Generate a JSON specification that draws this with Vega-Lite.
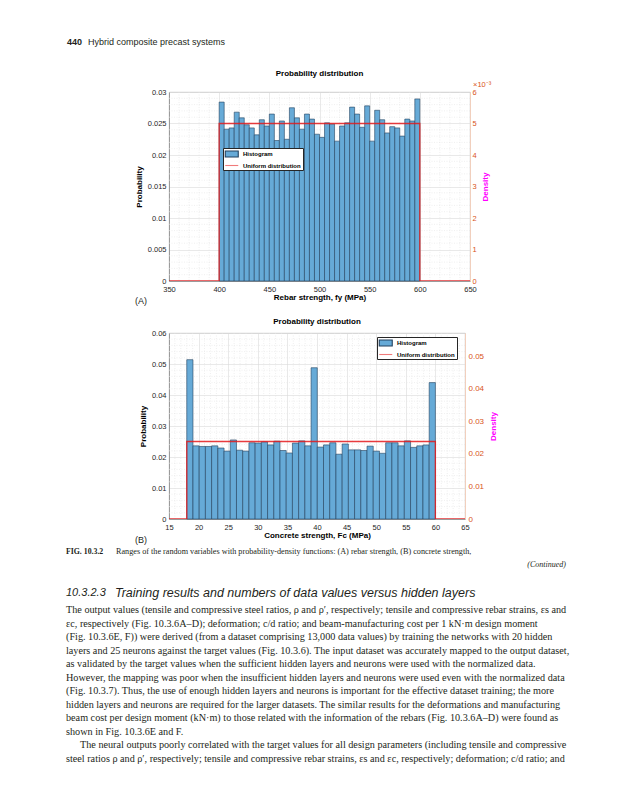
{
  "$schema": "https://vega.github.io/schema/vega-lite/v6.json",
  "padding": {"left": 66, "top": 30, "right": 0, "bottom": 0},
  "background": "white",
  "spacing": 52,
  "bounds": "flush",
  "resolve": {"scale": {"x": "independent", "y": "independent", "fill": "independent", "stroke": "independent", "shape": "independent"}, "legend": {"fill": "independent", "stroke": "independent", "shape": "independent"}},
  "config": {
    "font": "Liberation Sans",
    "view": {"stroke": "#bdbdbd", "strokeWidth": 0.8},
    "axis": {"labelFont": "Liberation Sans", "titleFont": "Liberation Sans", "labelFontSize": 7.5, "labelColor": "#262626", "titleColor": "#000000", "titleFontSize": 8, "titleFontWeight": "bold", "domainColor": "#8c8c8c", "domainWidth": 0.8, "ticks": false, "labelOverlap": false, "labelBound": false, "labelFlush": false, "gridColor": "#dadada", "gridWidth": 0.6},
    "legend": {"orient": "none", "title": null, "labelFont": "Liberation Sans", "labelFontSize": 6, "labelFontWeight": "bold", "labelColor": "#000000", "labelOffset": 9.5, "padding": 1.5, "rowPadding": 1.5, "fillColor": "#ffffff", "strokeColor": "#262626", "symbolSize": 56, "symbolOpacity": 1, "symbolStrokeWidth": 1.1},
    "title": {"font": "Liberation Sans", "fontSize": 8, "fontWeight": "bold", "color": "#000000", "offset": 3, "anchor": "middle"}
  },
  "vconcat": [
    {
      "width": 400, "height": 10, "view": {"stroke": null},
      "layer": [
        {"data": {"values": [{"t": "440"}]}, "mark": {"type": "text", "font": "Liberation Sans", "fontWeight": "bold", "fontSize": 9, "align": "left", "baseline": "middle", "color": "#231f20"}, "encoding": {"text": {"field": "t"}, "x": {"value": -102}, "y": {"value": 12}}},
        {"data": {"values": [{"t": "Hybrid composite precast systems"}]}, "mark": {"type": "text", "font": "Liberation Sans", "fontSize": 9, "align": "left", "baseline": "middle", "color": "#231f20"}, "encoding": {"text": {"field": "t"}, "x": {"value": -81}, "y": {"value": 12}}}
      ]
    },
    {
      "width": 301, "height": 189,
      "title": {"text": "Probability distribution"},
      "resolve": {"scale": {"y": "independent"}},
      "layer": [
        {
          "data": {"values": [{"lo": 360}, {"lo": 370}, {"lo": 380}, {"lo": 390}, {"lo": 410}, {"lo": 420}, {"lo": 430}, {"lo": 440}, {"lo": 460}, {"lo": 470}, {"lo": 480}, {"lo": 490}, {"lo": 510}, {"lo": 520}, {"lo": 530}, {"lo": 540}, {"lo": 560}, {"lo": 570}, {"lo": 580}, {"lo": 590}, {"lo": 610}, {"lo": 620}, {"lo": 630}, {"lo": 640}]},
          "mark": {"type": "rule", "color": "#e4e4e4", "strokeWidth": 0.6, "strokeDash": [1, 1.5]},
          "encoding": {"x": {"field": "lo", "type": "quantitative", "scale": {"domain": [350, 650], "nice": false, "zero": false},
            "axis": {"values": [350, 400, 450, 500, 550, 600, 650], "format": "d", "labelPadding": 4, "labelOverlap": false, "grid": true, "title": "Rebar strength, fy (MPa)", "titlePadding": 1}}}
        },
        {
          "data": {"values": [{"g": 0.001}, {"g": 0.002}, {"g": 0.003}, {"g": 0.004}, {"g": 0.006}, {"g": 0.007}, {"g": 0.008}, {"g": 0.009}, {"g": 0.011}, {"g": 0.012}, {"g": 0.013}, {"g": 0.014}, {"g": 0.016}, {"g": 0.017}, {"g": 0.018}, {"g": 0.019}, {"g": 0.021}, {"g": 0.022}, {"g": 0.023}, {"g": 0.024}, {"g": 0.026}, {"g": 0.027}, {"g": 0.028}, {"g": 0.029}]},
          "mark": {"type": "rule", "color": "#e4e4e4", "strokeWidth": 0.6, "strokeDash": [1, 1.5]},
          "encoding": {"y": {"field": "g", "type": "quantitative", "scale": {"domain": [0, 0.03], "nice": false}, "axis": null}}
        },
        {
          "data": {"values": [
            {"lo": 400, "hi": 405, "p": 0.0284}, {"lo": 405, "hi": 410, "p": 0.0241}, {"lo": 410, "hi": 415, "p": 0.0243}, {"lo": 415, "hi": 420, "p": 0.0268},
            {"lo": 420, "hi": 425, "p": 0.0259}, {"lo": 425, "hi": 430, "p": 0.0248}, {"lo": 430, "hi": 435, "p": 0.0243}, {"lo": 435, "hi": 440, "p": 0.0232},
            {"lo": 440, "hi": 445, "p": 0.0256}, {"lo": 445, "hi": 450, "p": 0.0246}, {"lo": 450, "hi": 455, "p": 0.0265}, {"lo": 455, "hi": 460, "p": 0.0223},
            {"lo": 460, "hi": 465, "p": 0.0254}, {"lo": 465, "hi": 470, "p": 0.0225}, {"lo": 470, "hi": 475, "p": 0.0275}, {"lo": 475, "hi": 480, "p": 0.0259},
            {"lo": 480, "hi": 485, "p": 0.0241}, {"lo": 485, "hi": 490, "p": 0.0265}, {"lo": 490, "hi": 495, "p": 0.0257}, {"lo": 495, "hi": 500, "p": 0.0233},
            {"lo": 500, "hi": 505, "p": 0.0228}, {"lo": 505, "hi": 510, "p": 0.0251}, {"lo": 510, "hi": 515, "p": 0.0249}, {"lo": 515, "hi": 520, "p": 0.0222},
            {"lo": 520, "hi": 525, "p": 0.0246}, {"lo": 525, "hi": 530, "p": 0.0251}, {"lo": 530, "hi": 535, "p": 0.0276}, {"lo": 535, "hi": 540, "p": 0.0265},
            {"lo": 540, "hi": 545, "p": 0.0244}, {"lo": 545, "hi": 550, "p": 0.0278}, {"lo": 550, "hi": 555, "p": 0.0222}, {"lo": 555, "hi": 560, "p": 0.0271},
            {"lo": 560, "hi": 565, "p": 0.0256}, {"lo": 565, "hi": 570, "p": 0.0235}, {"lo": 570, "hi": 575, "p": 0.0245}, {"lo": 575, "hi": 580, "p": 0.0243},
            {"lo": 580, "hi": 585, "p": 0.0230}, {"lo": 585, "hi": 590, "p": 0.0257}, {"lo": 590, "hi": 595, "p": 0.0254}, {"lo": 595, "hi": 600, "p": 0.0289}
          ]},
          "mark": {"type": "bar", "fill": "#66AAD7", "stroke": "#23415e", "strokeWidth": 0.6},
          "encoding": {
            "x": {"field": "lo", "type": "quantitative", "scale": {"domain": [350, 650], "nice": false, "zero": false},
              "axis": {"values": [350, 400, 450, 500, 550, 600, 650], "format": "d", "labelPadding": 4, "labelOverlap": false, "grid": true, "title": "Rebar strength, fy (MPa)", "titlePadding": 1}},
            "x2": {"field": "hi"},
            "y": {"field": "p", "type": "quantitative", "scale": {"domain": [0, 0.03], "nice": false},
              "axis": {"orient": "left", "values": [0, 0.005, 0.01, 0.015, 0.02, 0.025, 0.03], "format": "~g", "labelPadding": 3, "labelOverlap": false, "grid": true,
                "title": "Probability", "titlePadding": 4}},
            "y2": {"datum": 0}
          }
        },
        {
          "data": {"values": [{"i": 1, "x": 350, "d": 0}, {"i": 2, "x": 400, "d": 0}, {"i": 3, "x": 400, "d": 0.005}, {"i": 4, "x": 600, "d": 0.005}, {"i": 5, "x": 600, "d": 0}, {"i": 6, "x": 650, "d": 0}]},
          "mark": {"type": "line", "color": "#E41A1C", "strokeWidth": 1.3, "opacity": 0.85, "clip": true},
          "encoding": {
            "x": {"field": "x", "type": "quantitative", "scale": {"domain": [350, 650], "nice": false, "zero": false},
              "axis": {"values": [350, 400, 450, 500, 550, 600, 650], "format": "d", "labelPadding": 4, "labelOverlap": false, "grid": true, "title": "Rebar strength, fy (MPa)", "titlePadding": 1}},
            "y": {"field": "d", "type": "quantitative", "scale": {"domain": [0, 0.006], "nice": false},
              "axis": {"orient": "right", "values": [0, 0.001, 0.002, 0.003, 0.004, 0.005, 0.006], "labelExpr": "format(datum.value*1000, '.0f')",
                "grid": false, "labelColor": "#D95319", "labelPadding": 2, "domainColor": "#F8CDB6", "labelOverlap": false,
                "title": "Density", "titleColor": "#FF00FF", "titlePadding": 5, "titleAngle": 270, "titleBaseline": "top"}},
            "order": {"field": "i"}
          }
        },
        {
          "data": {"values": [{"s": "Histogram"}, {"s": "Uniform distribution"}]},
          "mark": {"type": "point", "opacity": 0, "filled": false},
          "encoding": {
            "x": {"value": 0}, "y": {"value": 0},
            "shape": {"field": "s", "type": "nominal", "scale": {"domain": ["Histogram", "Uniform distribution"], "range": ["M-1,-0.8L2.47,-0.8L2.47,0.8L-1,0.8Z", "M-1,0L2.47,0"]}, "legend": {"orient": "none", "legendX": 54, "legendY": 56, "title": null}},
            "fill": {"field": "s", "type": "nominal", "scale": {"domain": ["Histogram", "Uniform distribution"], "range": ["#66AAD7", "transparent"]}, "legend": {"orient": "none", "legendX": 54, "legendY": 56, "title": null}},
            "stroke": {"field": "s", "type": "nominal", "scale": {"domain": ["Histogram", "Uniform distribution"], "range": ["#23415e", "#F07B7B"]}, "legend": {"orient": "none", "legendX": 54, "legendY": 56, "title": null}}
          }
        },
        {
          "data": {"values": [{"t": "×10⁻³"}]},
          "mark": {"type": "text", "font": "Liberation Sans", "fontSize": 7.5, "align": "left", "baseline": "middle", "color": "#D95319"},
          "encoding": {"text": {"field": "t"}, "x": {"value": 304}, "y": {"value": -7}}
        },
        {
          "data": {"values": [{"t": "(A)"}]},
          "mark": {"type": "text", "font": "Liberation Sans", "fontSize": 9, "align": "left", "baseline": "middle", "color": "#231f20"},
          "encoding": {"text": {"field": "t"}, "x": {"value": -34}, "y": {"value": 209}}
        }
      ]
    },
    {
      "width": 296, "height": 186,
      "title": {"text": "Probability distribution"},
      "resolve": {"scale": {"y": "independent"}},
      "layer": [
        {
          "data": {"values": [{"lo": 16}, {"lo": 17}, {"lo": 18}, {"lo": 19}, {"lo": 21}, {"lo": 22}, {"lo": 23}, {"lo": 24}, {"lo": 26}, {"lo": 27}, {"lo": 28}, {"lo": 29}, {"lo": 31}, {"lo": 32}, {"lo": 33}, {"lo": 34}, {"lo": 36}, {"lo": 37}, {"lo": 38}, {"lo": 39}, {"lo": 41}, {"lo": 42}, {"lo": 43}, {"lo": 44}, {"lo": 46}, {"lo": 47}, {"lo": 48}, {"lo": 49}, {"lo": 51}, {"lo": 52}, {"lo": 53}, {"lo": 54}, {"lo": 56}, {"lo": 57}, {"lo": 58}, {"lo": 59}, {"lo": 61}, {"lo": 62}, {"lo": 63}, {"lo": 64}]},
          "mark": {"type": "rule", "color": "#e4e4e4", "strokeWidth": 0.6, "strokeDash": [1, 1.5]},
          "encoding": {"x": {"field": "lo", "type": "quantitative", "scale": {"domain": [15, 65], "nice": false, "zero": false},
            "axis": {"values": [15, 20, 25, 30, 35, 40, 45, 50, 55, 60, 65], "format": "d", "labelPadding": 4, "labelOverlap": false, "grid": true, "title": "Concrete strength, Fc (MPa)", "titlePadding": 1}}}
        },
        {
          "data": {"values": [{"g": 0.002}, {"g": 0.004}, {"g": 0.006}, {"g": 0.008}, {"g": 0.012}, {"g": 0.014}, {"g": 0.016}, {"g": 0.018}, {"g": 0.022}, {"g": 0.024}, {"g": 0.026}, {"g": 0.028}, {"g": 0.032}, {"g": 0.034}, {"g": 0.036}, {"g": 0.038}, {"g": 0.042}, {"g": 0.044}, {"g": 0.046}, {"g": 0.048}, {"g": 0.052}, {"g": 0.054}, {"g": 0.056}, {"g": 0.058}]},
          "mark": {"type": "rule", "color": "#e4e4e4", "strokeWidth": 0.6, "strokeDash": [1, 1.5]},
          "encoding": {"y": {"field": "g", "type": "quantitative", "scale": {"domain": [0, 0.06], "nice": false}, "axis": null}}
        },
        {
          "data": {"values": [
            {"lo": 18, "hi": 19.05, "p": 0.0514}, {"lo": 19.05, "hi": 20.1, "p": 0.0236}, {"lo": 20.1, "hi": 21.15, "p": 0.0234}, {"lo": 21.15, "hi": 22.2, "p": 0.0234},
            {"lo": 22.2, "hi": 23.25, "p": 0.0236}, {"lo": 23.25, "hi": 24.3, "p": 0.0229}, {"lo": 24.3, "hi": 25.35, "p": 0.0219}, {"lo": 25.35, "hi": 26.4, "p": 0.0255},
            {"lo": 26.4, "hi": 27.45, "p": 0.0222}, {"lo": 27.45, "hi": 28.5, "p": 0.0219}, {"lo": 28.5, "hi": 29.55, "p": 0.0246}, {"lo": 29.55, "hi": 30.6, "p": 0.0245},
            {"lo": 30.6, "hi": 31.65, "p": 0.0249}, {"lo": 31.65, "hi": 32.7, "p": 0.0239}, {"lo": 32.7, "hi": 33.75, "p": 0.0251}, {"lo": 33.75, "hi": 34.8, "p": 0.0221},
            {"lo": 34.8, "hi": 35.85, "p": 0.0213}, {"lo": 35.85, "hi": 36.9, "p": 0.0245}, {"lo": 36.9, "hi": 37.95, "p": 0.0252}, {"lo": 37.95, "hi": 39, "p": 0.0236},
            {"lo": 39, "hi": 40.05, "p": 0.0488}, {"lo": 40.05, "hi": 41.1, "p": 0.0232}, {"lo": 41.1, "hi": 42.15, "p": 0.0239}, {"lo": 42.15, "hi": 43.2, "p": 0.0246},
            {"lo": 43.2, "hi": 44.25, "p": 0.0209}, {"lo": 44.25, "hi": 45.3, "p": 0.0242}, {"lo": 45.3, "hi": 46.35, "p": 0.0223}, {"lo": 46.35, "hi": 47.4, "p": 0.0223},
            {"lo": 47.4, "hi": 48.45, "p": 0.0221}, {"lo": 48.45, "hi": 49.5, "p": 0.0235}, {"lo": 49.5, "hi": 50.55, "p": 0.0219}, {"lo": 50.55, "hi": 51.6, "p": 0.0212},
            {"lo": 51.6, "hi": 52.65, "p": 0.0246}, {"lo": 52.65, "hi": 53.7, "p": 0.0246}, {"lo": 53.7, "hi": 54.75, "p": 0.0236}, {"lo": 54.75, "hi": 55.8, "p": 0.0252},
            {"lo": 55.8, "hi": 56.85, "p": 0.0231}, {"lo": 56.85, "hi": 57.9, "p": 0.0236}, {"lo": 57.9, "hi": 58.95, "p": 0.0239}, {"lo": 58.95, "hi": 60, "p": 0.0440}
          ]},
          "mark": {"type": "bar", "fill": "#66AAD7", "stroke": "#23415e", "strokeWidth": 0.6},
          "encoding": {
            "x": {"field": "lo", "type": "quantitative", "scale": {"domain": [15, 65], "nice": false, "zero": false},
              "axis": {"values": [15, 20, 25, 30, 35, 40, 45, 50, 55, 60, 65], "format": "d", "labelPadding": 4, "labelOverlap": false, "grid": true, "title": "Concrete strength, Fc (MPa)", "titlePadding": 1}},
            "x2": {"field": "hi"},
            "y": {"field": "p", "type": "quantitative", "scale": {"domain": [0, 0.06], "nice": false},
              "axis": {"orient": "left", "values": [0, 0.01, 0.02, 0.03, 0.04, 0.05, 0.06], "format": "~g", "labelPadding": 3, "labelOverlap": false, "grid": true,
                "title": "Probability", "titlePadding": 4}},
            "y2": {"datum": 0}
          }
        },
        {
          "data": {"values": [{"i": 1, "x": 15, "d": 0}, {"i": 2, "x": 18, "d": 0}, {"i": 3, "x": 18, "d": 0.02381}, {"i": 4, "x": 60, "d": 0.02381}, {"i": 5, "x": 60, "d": 0}, {"i": 6, "x": 65, "d": 0}]},
          "mark": {"type": "line", "color": "#E41A1C", "strokeWidth": 1.3, "opacity": 0.85, "clip": true},
          "encoding": {
            "x": {"field": "x", "type": "quantitative", "scale": {"domain": [15, 65], "nice": false, "zero": false},
              "axis": {"values": [15, 20, 25, 30, 35, 40, 45, 50, 55, 60, 65], "format": "d", "labelPadding": 4, "labelOverlap": false, "grid": true, "title": "Concrete strength, Fc (MPa)", "titlePadding": 1}},
            "y": {"field": "d", "type": "quantitative", "scale": {"domain": [0, 0.0571429], "nice": false},
              "axis": {"orient": "right", "values": [0, 0.01, 0.02, 0.03, 0.04, 0.05], "format": "~g", "labelOverlap": false,
                "grid": false, "labelColor": "#D95319", "labelFontSize": 8, "labelPadding": 3, "domainColor": "#F8CDB6",
                "title": "Density", "titleColor": "#FF00FF", "titlePadding": 6, "titleAngle": 270, "titleBaseline": "top"}},
            "order": {"field": "i"}
          }
        },
        {
          "data": {"values": [{"s": "Histogram"}, {"s": "Uniform distribution"}]},
          "mark": {"type": "point", "opacity": 0, "filled": false},
          "encoding": {
            "x": {"value": 0}, "y": {"value": 0},
            "shape": {"field": "s", "type": "nominal", "scale": {"domain": ["Histogram", "Uniform distribution"], "range": ["M-1,-0.8L2.47,-0.8L2.47,0.8L-1,0.8Z", "M-1,0L2.47,0"]}, "legend": {"orient": "none", "legendX": 208, "legendY": 4, "title": null}},
            "fill": {"field": "s", "type": "nominal", "scale": {"domain": ["Histogram", "Uniform distribution"], "range": ["#66AAD7", "transparent"]}, "legend": {"orient": "none", "legendX": 208, "legendY": 4, "title": null}},
            "stroke": {"field": "s", "type": "nominal", "scale": {"domain": ["Histogram", "Uniform distribution"], "range": ["#23415e", "#F07B7B"]}, "legend": {"orient": "none", "legendX": 208, "legendY": 4, "title": null}}
          }
        },
        {
          "data": {"values": [{"t": "(B)"}]},
          "mark": {"type": "text", "font": "Liberation Sans", "fontSize": 9, "align": "left", "baseline": "middle", "color": "#231f20"},
          "encoding": {"text": {"field": "t"}, "x": {"value": -34}, "y": {"value": 207}}
        }
      ]
    },
    {
      "width": 400, "height": 190, "view": {"stroke": null},
      "layer": [
        {"data": {"values": [{"t": "FIG. 10.3.2"}]}, "mark": {"type": "text", "font": "Liberation Serif", "fontWeight": "bold", "fontSize": 7.8, "align": "left", "baseline": "middle", "color": "#231f20"}, "encoding": {"text": {"field": "t"}, "x": {"value": -103}, "y": {"value": -19}}},
        {"data": {"values": [{"t": "Ranges of the random variables with probability-density functions: (A) rebar strength, (B) concrete strength,"}]}, "mark": {"type": "text", "font": "Liberation Serif", "fontSize": 8.2, "align": "left", "baseline": "middle", "color": "#231f20"}, "encoding": {"text": {"field": "t"}, "x": {"value": -53}, "y": {"value": -19}}},
        {"data": {"values": [{"t": "(Continued)"}]}, "mark": {"type": "text", "font": "Liberation Serif", "fontStyle": "italic", "fontSize": 8, "align": "right", "baseline": "middle", "color": "#231f20"}, "encoding": {"text": {"field": "t"}, "x": {"value": 397}, "y": {"value": -6}}},
        {"data": {"values": [{"t": "10.3.2.3"}]}, "mark": {"type": "text", "font": "Liberation Sans", "fontStyle": "italic", "fontSize": 11, "align": "left", "baseline": "middle", "color": "#231f20"}, "encoding": {"text": {"field": "t"}, "x": {"value": -103}, "y": {"value": 22}}},
        {"data": {"values": [{"t": "Training results and numbers of data values versus hidden layers"}]}, "mark": {"type": "text", "font": "Liberation Sans", "fontStyle": "italic", "fontSize": 12.5, "align": "left", "baseline": "middle", "color": "#231f20"}, "encoding": {"text": {"field": "t"}, "x": {"value": -54}, "y": {"value": 22}}},
        {
          "data": {"values": [
            {"ln": 1, "t": "The output values (tensile and compressive steel ratios, ρ and ρ′, respectively; tensile and compressive rebar strains, εs and"},
            {"ln": 2, "t": "εc, respectively (Fig. 10.3.6A–D); deformation; c/d ratio; and beam-manufacturing cost per 1 kN·m design moment"},
            {"ln": 3, "t": "(Fig. 10.3.6E, F)) were derived (from a dataset comprising 13,000 data values) by training the networks with 20 hidden"},
            {"ln": 4, "t": "layers and 25 neurons against the target values (Fig. 10.3.6). The input dataset was accurately mapped to the output dataset,"},
            {"ln": 5, "t": "as validated by the target values when the sufficient hidden layers and neurons were used with the normalized data."},
            {"ln": 6, "t": "However, the mapping was poor when the insufficient hidden layers and neurons were used even with the normalized data"},
            {"ln": 7, "t": "(Fig. 10.3.7). Thus, the use of enough hidden layers and neurons is important for the effective dataset training; the more"},
            {"ln": 8, "t": "hidden layers and neurons are required for the larger datasets. The similar results for the deformations and manufacturing"},
            {"ln": 9, "t": "beam cost per design moment (kN·m) to those related with the information of the rebars (Fig. 10.3.6A–D) were found as"},
            {"ln": 10, "t": "shown in Fig. 10.3.6E and F."},
            {"ln": 12, "t": "steel ratios ρ and ρ′, respectively; tensile and compressive rebar strains, εs and εc, respectively; deformation; c/d ratio; and"}
          ]},
          "mark": {"type": "text", "font": "Liberation Serif", "fontSize": 10.2, "align": "left", "baseline": "middle", "color": "#231f20"},
          "encoding": {"text": {"field": "t"}, "x": {"value": -103}, "y": {"field": "ln", "type": "quantitative", "scale": {"domain": [1, 12], "range": [39, 188]}, "axis": null}}
        },
        {
          "data": {"values": [{"ln": 11, "t": "The neural outputs poorly correlated with the target values for all design parameters (including tensile and compressive"}]},
          "mark": {"type": "text", "font": "Liberation Serif", "fontSize": 10.2, "align": "left", "baseline": "middle", "color": "#231f20"},
          "encoding": {"text": {"field": "t"}, "x": {"value": -89}, "y": {"field": "ln", "type": "quantitative", "scale": {"domain": [1, 12], "range": [39, 188]}, "axis": null}}
        }
      ]
    }
  ]
}
